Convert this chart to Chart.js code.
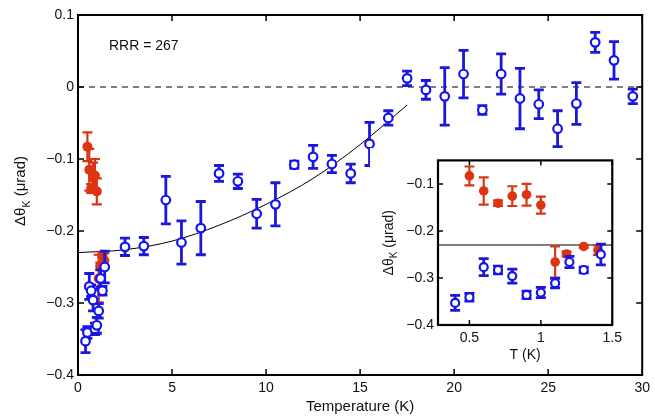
<!DOCTYPE html>
<html>
<head>
<meta charset="utf-8">
<script src="https://cdn.jsdelivr.net/npm/chart.js@4.4.1/dist/chart.umd.min.js"></script>
<style>
  body { margin: 0; background: #fff; }
  #wrap { position: relative; width: 655px; height: 418px; }
  #main { position: absolute; left: 0; top: 0; }
  #inset { position: absolute; left: 370px; top: 148px; background: #fff; }
</style>
</head>
<body>
<div id="wrap">
  <canvas id="main" width="655" height="418"></canvas>
  <canvas id="inset" width="257" height="218"></canvas>
</div>
<script>
// low temperature data (shared by main plot and inset)
const lowT = [0.4, 0.5, 0.6, 0.7, 0.8, 0.9, 1.0, 1.1, 1.2, 1.3, 1.42];
const lowBlue = [-0.353, -0.341, -0.277, -0.283, -0.296, -0.336, -0.331, -0.311, -0.266, -0.283, -0.250];
const lowBlueErr = [0.016, 0.008, 0.018, 0.008, 0.015, 0.008, 0.011, 0.010, 0.012, 0.006, 0.022];

const redT = [0.5, 0.6, 0.7, 0.8, 0.9, 1.0, 1.1, 1.18, 1.3, 1.4];
const redVals = [-0.083, -0.115, -0.141, -0.126, -0.123, -0.145, -0.266, -0.249, -0.233, -0.241];
const redErr = [0.020, 0.029, 0.006, 0.021, 0.023, 0.018, 0.033, 0.005, 0.003, 0.010];

// higher temperature data (main plot only)
const highT = [2.5, 3.5, 4.67, 5.5, 6.53, 7.5, 8.5, 9.5, 10.5, 11.5, 12.5, 13.5, 14.5, 15.5,
  16.5, 17.5, 18.5, 19.5, 20.5, 21.5, 22.5, 23.5, 24.5, 25.5, 26.5, 27.5, 28.5, 29.5];
const highBlue = [-0.222, -0.221, -0.157, -0.216, -0.196, -0.120, -0.131, -0.176, -0.163, -0.108,
  -0.097, -0.107, -0.120, -0.079, -0.043, 0.012, -0.004, -0.013, 0.018, -0.032, 0.018, -0.016,
  -0.024, -0.058, -0.023, 0.062, 0.037, -0.013];
const highErr = [0.012, 0.012, 0.033, 0.030, 0.037, 0.011, 0.010, 0.020, 0.030, 0.005, 0.016,
  0.012, 0.013, 0.030, 0.010, 0.010, 0.013, 0.040, 0.033, 0.006, 0.028, 0.042, 0.020, 0.025,
  0.029, 0.014, 0.026, 0.010];

// fit curve
const fitT = [0, 2.5, 5, 7.5, 10, 12.5, 15, 17.5];
const fitVals = [-0.23, -0.226, -0.214, -0.192, -0.163, -0.127, -0.080, -0.025];

const zeroT = [0, 30];
const zeroVals = [0, 0];
const insetLineT = [0.28, 1.5];
const insetLineVals = [-0.23, -0.23];

const mainXTicks = [0, 5, 10, 15, 20, 25, 30];
const mainYTicks = [-0.4, -0.3, -0.2, -0.1, 0, 0.1];
const insetXTicks = [0.5, 1, 1.5];
const insetYTicks = [-0.4, -0.3, -0.2, -0.1];

const BLUE = '#1414f0';
const BLUE_BAR = '#1c18d8';
const RED = '#dc3412';
const FONT = 'Liberation Sans, Arial, sans-serif';

function pts(xs, ys) {
  return xs.map((x, i) => ({ x: x, y: ys[i] }));
}

function fmt(v) {
  const s = String(Math.round(v * 10) / 10);
  return s.replace('-', '\u2212');
}

// error bars drawn just before each dataset's markers
const errorBars = {
  id: 'errorBars',
  beforeDatasetDraw(chart, args) {
    const ds = chart.data.datasets[args.index];
    if (!ds.errors) return;
    const ctx = chart.ctx;
    const xs = chart.scales.x, ys = chart.scales.y;
    ctx.save();
    ctx.strokeStyle = ds.barColor;
    ctx.lineWidth = ds.barWidth;
    ds.data.forEach((p, i) => {
      const e = ds.errors[i];
      const px = xs.getPixelForValue(p.x);
      const top = ys.getPixelForValue(p.y + e);
      const bot = ys.getPixelForValue(p.y - e);
      ctx.beginPath();
      ctx.moveTo(px, top); ctx.lineTo(px, bot);
      ctx.moveTo(px - ds.cap, top); ctx.lineTo(px + ds.cap, top);
      ctx.moveTo(px - ds.cap, bot); ctx.lineTo(px + ds.cap, bot);
      ctx.stroke();
    });
    ctx.restore();
  }
};

// matlab style box with inward ticks and axis titles
const boxTicks = {
  id: 'boxTicks',
  afterDraw(chart, args, opts) {
    const ctx = chart.ctx;
    const a = chart.chartArea;
    const xs = chart.scales.x, ys = chart.scales.y;
    const len = opts.len || 6;
    ctx.save();
    ctx.strokeStyle = '#000';
    ctx.lineWidth = opts.width || 1.5;
    ctx.beginPath();
    xs.ticks.forEach(t => {
      const px = xs.getPixelForValue(t.value);
      ctx.moveTo(px, a.bottom); ctx.lineTo(px, a.bottom - len);
      ctx.moveTo(px, a.top); ctx.lineTo(px, a.top + len);
    });
    ys.ticks.forEach(t => {
      const py = ys.getPixelForValue(t.value);
      ctx.moveTo(a.left, py); ctx.lineTo(a.left + len, py);
      ctx.moveTo(a.right, py); ctx.lineTo(a.right - len, py);
    });
    ctx.stroke();
    ctx.lineWidth = opts.frame || 2;
    ctx.strokeRect(a.left, a.top, a.right - a.left, a.bottom - a.top);

    const fs = opts.fontSize;
    ctx.fillStyle = '#111';

    // x title
    ctx.font = fs + 'px ' + FONT;
    ctx.textAlign = 'center';
    ctx.textBaseline = 'middle';
    ctx.fillText(opts.xTitle, (a.left + a.right) / 2, a.bottom + opts.xTitleOffset);

    // y title with subscript
    ctx.textAlign = 'left';
    ctx.textBaseline = 'alphabetic';
    ctx.translate(opts.titleX, (a.top + a.bottom) / 2 + (opts.titleShift || 0));
    ctx.rotate(-Math.PI / 2);
    const p1 = '\u0394\u03b8', p3 = ' (\u03bcrad)';
    ctx.font = (fs * 0.72) + 'px ' + FONT;
    const wK = ctx.measureText('K').width;
    ctx.font = fs + 'px ' + FONT;
    const w1 = ctx.measureText(p1).width, w3 = ctx.measureText(p3).width;
    const x0 = -(w1 + wK + w3) / 2;
    const base = fs * 0.35;
    ctx.fillText(p1, x0, base);
    ctx.font = (fs * 0.72) + 'px ' + FONT;
    ctx.fillText('K', x0 + w1, base + fs * 0.3);
    ctx.font = fs + 'px ' + FONT;
    ctx.fillText(p3, x0 + w1 + wK, base);
    ctx.restore();

    if (opts.note) {
      ctx.save();
      ctx.fillStyle = '#111';
      ctx.font = '14px ' + FONT;
      ctx.fillText(opts.note, a.left + 31, a.top + 35);
      ctx.restore();
    }
  }
};

function scatterSet(xs, ys, errs, filled, order, radius) {
  return {
    type: 'scatter',
    data: pts(xs, ys),
    errors: errs,
    barColor: filled ? RED : BLUE_BAR,
    barWidth: filled ? 2.2 : 2.8,
    cap: 5,
    pointRadius: radius,
    pointBorderWidth: filled ? 0 : 2.2,
    pointBorderColor: filled ? RED : BLUE,
    pointBackgroundColor: filled ? RED : '#fff',
    order: order
  };
}

function fixedAxis(min, max, ticks, size, isX) {
  return {
    type: 'linear',
    min: min, max: max,
    afterBuildTicks: s => { s.ticks = ticks.map(v => ({ value: v })); },
    afterFit: s => { if (isX) s.height = size; else s.width = size; },
    grid: { display: false, drawTicks: false },
    border: { display: false },
    ticks: {
      color: '#111',
      font: { family: FONT, size: 14 },
      padding: isX ? 5 : 4,
      maxRotation: 0,
      callback: v => fmt(v)
    }
  };
}

new Chart(document.getElementById('main'), {
  type: 'scatter',
  data: {
    datasets: [
      {
        type: 'line', data: pts(fitT, fitVals), borderColor: '#000', borderWidth: 1,
        pointRadius: 0, cubicInterpolationMode: 'monotone', order: 4
      },
      {
        type: 'line', data: pts(zeroT, zeroVals), borderColor: '#000', borderWidth: 1,
        borderDash: [6, 5], pointRadius: 0, order: 5
      },
      scatterSet(lowT.concat(highT), lowBlue.concat(highBlue), lowBlueErr.concat(highErr), false, 1, 4.3),
      scatterSet(redT, redVals, redErr, true, 2, 5)
    ]
  },
  options: {
    responsive: false,
    animation: false,
    events: [],
    layout: { padding: { left: 0, right: 11, top: 15, bottom: 0 } },
    plugins: {
      legend: { display: false },
      tooltip: { enabled: false },
      boxTicks: {
        len: 6, width: 1.5, frame: 2, titleX: 20, fontSize: 15, titleShift: -4,
        note: 'RRR = 267', xTitle: 'Temperature (K)', xTitleOffset: 32
      }
    },
    scales: {
      x: fixedAxis(0, 30, mainXTicks, 43, true),
      y: fixedAxis(-0.4, 0.1, mainYTicks, 78, false)
    }
  },
  plugins: [errorBars, boxTicks]
});

new Chart(document.getElementById('inset'), {
  type: 'scatter',
  data: {
    datasets: [
      {
        type: 'line', data: pts(insetLineT, insetLineVals), borderColor: '#555', borderWidth: 1.5,
        pointRadius: 0, order: 4
      },
      scatterSet(lowT, lowBlue, lowBlueErr, false, 1, 4),
      scatterSet(redT, redVals, redErr, true, 2, 4.8)
    ]
  },
  options: {
    responsive: false,
    animation: false,
    events: [],
    layout: { padding: { left: 0, right: 8, top: 10, bottom: 0 } },
    plugins: {
      legend: { display: false },
      tooltip: { enabled: false },
      boxTicks: {
        len: 5, width: 1.5, frame: 2.2, titleX: 18, fontSize: 14,
        xTitle: 'T (K)', xTitleOffset: 30
      }
    },
    scales: {
      x: fixedAxis(0.28, 1.5, insetXTicks, 41, true),
      y: fixedAxis(-0.4, -0.05, insetYTicks, 68, false)
    }
  },
  plugins: [errorBars, boxTicks]
});
</script>
</body>
</html>
